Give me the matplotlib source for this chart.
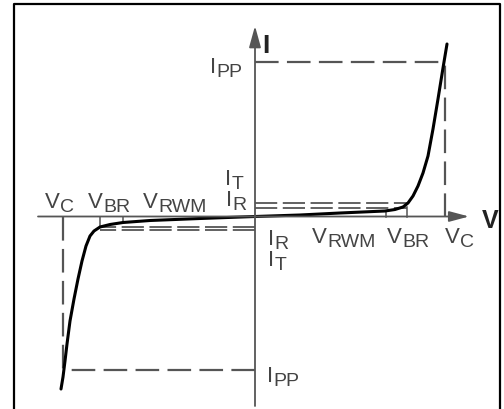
import matplotlib
matplotlib.use("Agg")
import matplotlib.pyplot as plt

plt.rcParams["font.family"] = ["Liberation Sans", "DejaVu Sans"]
plt.rcParams["lines.scale_dashes"] = False

# characteristic values (drawing units, origin at the axes crossing)
V_RWM = 131
V_BR = 152
V_C = 190
V_RWM_NEG = -132
V_BR_NEG = -155
V_C_NEG = -192
I_PP = 155
I_PP_NEG = -153
I_T = 14
I_R = 8.5
I_T_NEG = -13.5
I_R_NEG = -10

# forward (right) branch of the curve
v_fwd = [0, 45, 85, 130, 140, 148, 153, 158, 163, 168, 173, 178, 183, 188, 192]
i_fwd = [0, 1.5, 3.5, 5.5, 7, 9.5, 13.5, 20.5, 30.5, 43.5, 60.5, 87.5, 117.5, 148.5, 172.5]

# reverse (left) branch of the curve
v_rev = [0, -55, -105, -132, -145, -155, -161, -165, -169, -173, -177, -181,
         -185, -188, -190, -192, -194]
i_rev = [0, -2, -4, -6, -8, -10.5, -14.5, -19.5, -29.5, -44.5, -62.5, -82.5,
         -104.5, -127.5, -144.5, -160.5, -172.5]

GREY = "#555555"
TXT = "#444444"
BIG_DASH = (0, (17, 6))
SMALL_DASH = (0, (16, 4))

fig = plt.figure(figsize=(5.04, 4.10), dpi=100)
ax = fig.add_axes([0, 0, 1, 1])
ax.set_xlim(-255, 249)
ax.set_ylim(-192.5, 217.5)
ax.axis("off")

# outer frame
ax.plot([-241, -241, 244.5, 244.5], [-200, 212.5, 212.5, -200],
        color="black", lw=1.6, clip_on=False)

# axes with arrows
ax.annotate("", xy=(214, 0), xytext=(-217, 0),
            arrowprops=dict(arrowstyle="-|>,head_length=1.2,head_width=0.32",
                            mutation_scale=10, lw=1.3, color=GREY,
                            shrinkA=0, shrinkB=0))
ax.annotate("", xy=(0, 190.5), xytext=(0, -189.5),
            arrowprops=dict(arrowstyle="-|>,head_length=1.3,head_width=0.36",
                            mutation_scale=10, lw=1.3, color=GREY,
                            shrinkA=0, shrinkB=0))
ax.text(7, 164.5, "I", fontsize=19, fontweight="bold", color="#222222",
        ha="left", va="baseline")
ax.text(227, -10.5, "V", fontsize=18, fontweight="bold", color="#222222",
        ha="left", va="baseline")

# dashed guide lines
ax.plot([0, V_C], [I_PP, I_PP], color=GREY, lw=1.6, ls=BIG_DASH)
ax.plot([V_C, V_C], [0, I_PP], color=GREY, lw=1.6, ls=BIG_DASH)
ax.plot([0, V_C_NEG], [I_PP_NEG, I_PP_NEG], color=GREY, lw=1.6, ls=BIG_DASH)
ax.plot([V_C_NEG, V_C_NEG], [0, I_PP_NEG], color=GREY, lw=1.6, ls=BIG_DASH)
for level, vend in [(I_T, V_BR), (I_R, V_BR), (I_T_NEG, V_BR_NEG), (I_R_NEG, V_BR_NEG)]:
    ax.plot([0, vend], [level, level], color=GREY, lw=1.3, ls=SMALL_DASH)

# short ticks from axis to curve
for v, i in [(V_RWM, 5.5), (V_BR, 9.5), (V_RWM_NEG, -6), (V_BR_NEG, -10.5)]:
    ax.plot([v, v], [0, i], color=GREY, lw=1.1)

# I-V curve
ax.plot(v_fwd, i_fwd, color="black", lw=2.2, solid_capstyle="round")
ax.plot(v_rev, i_rev, color="black", lw=2.2, solid_capstyle="round")


def label(x, y, main, sub):
    t = ax.text(x, y, main, fontsize=16, color=TXT, ha="left", va="baseline")
    ax.annotate(sub, xy=(1, 0), xycoords=t, xytext=(0.2, -2),
                textcoords="offset points", fontsize=14, color=TXT,
                ha="left", va="bottom")


label(-210, 9.5, "V", "C")
label(-167, 9.5, "V", "BR")
label(-112, 9.5, "V", "RWM")
label(-30, 32.5, "I", "T")
label(-29, 11.5, "I", "R")
label(13, -27.5, "I", "R")
label(13, -49, "I", "T")
label(57, -25.5, "V", "RWM")
label(132, -25.5, "V", "BR")
label(190, -25.5, "V", "C")
label(-45, 144.5, "I", "PP")
label(12, -164.5, "I", "PP")

fig.savefig("out.png", dpi=100)
